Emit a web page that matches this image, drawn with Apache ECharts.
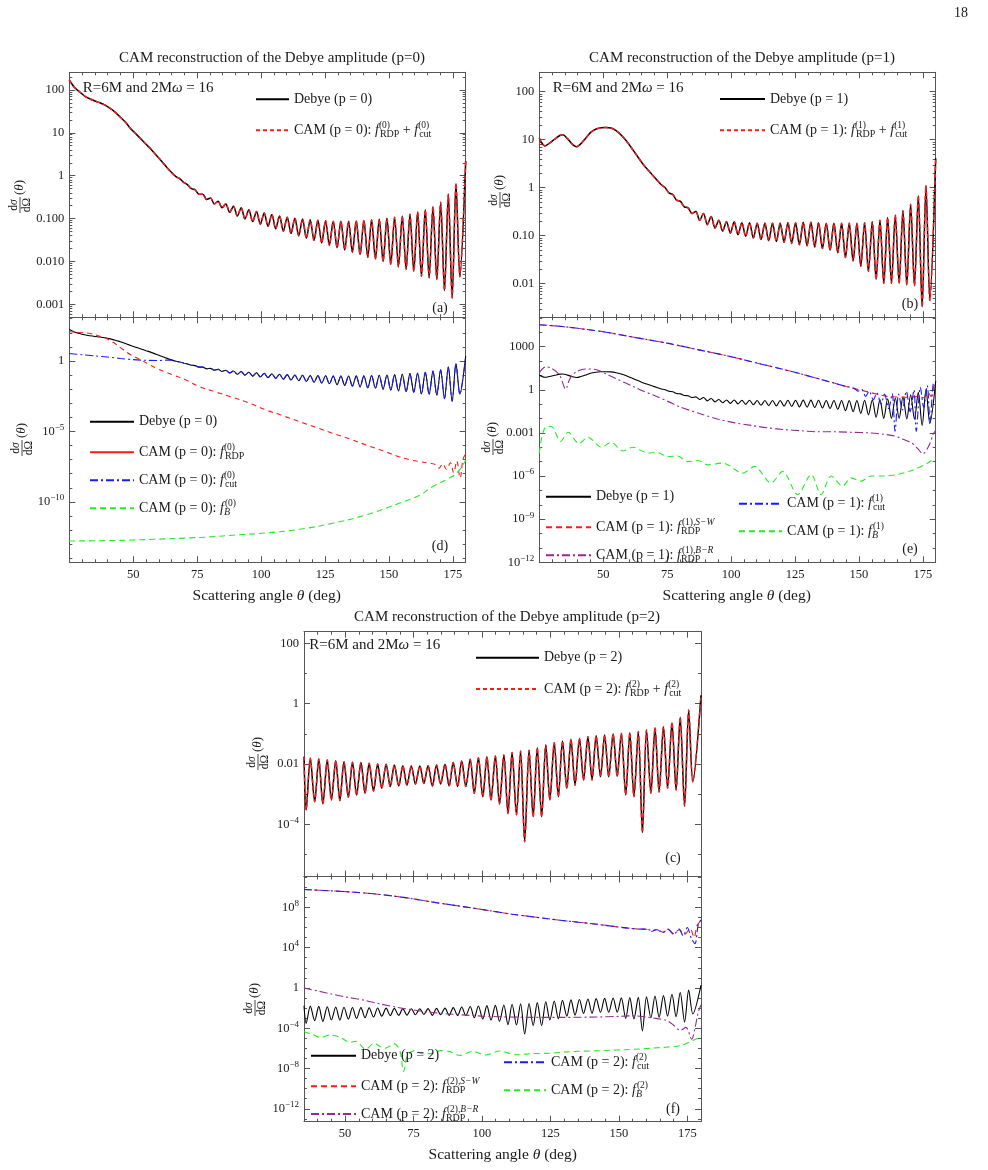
<!DOCTYPE html>
<html><head><meta charset="utf-8">
<script src="https://cdn.jsdelivr.net/npm/echarts@6/dist/echarts.min.js"></script>
<style>html,body{margin:0;padding:0;background:#fff}#c{width:988px;height:1170px}</style>
</head><body><div id="c"></div>
<script>
// ================= DATA =================
const xTickLabels = [50, 75, 100, 125, 150, 175];

// Debye p=0 (panels a and d)
const debyeP0 = [[25,170],[27,115],[29,90],[31,72],[33,62],[35,55],[37,50],[39,44],[41,37],[43,30],[45,23],[47,17.5],[49,12.5],[51,9.5],[53,7.2],[55,5.4],[57,4.1],[59,3.0],[61,2.2],[63,1.6],
[65.2,1.15],[66.7,0.95],[68.2,0.85],[69.7,0.70],[71.2,0.62],[72.7,0.50],[74.2,0.47],[75.7,0.37],[77.2,0.37],[78.7,0.28],[80.2,0.30],[81.7,0.22],[83.2,0.255],[84.7,0.18],[86.2,0.22],[87.7,0.14],[89.2,0.195],[90.7,0.115],[92.2,0.18],[93.7,0.098],[95.2,0.16],[96.7,0.085],[98.2,0.147],[99.7,0.074],[101.2,0.135],[102.7,0.066],[104.2,0.125],[105.7,0.058],[107.2,0.115],[108.7,0.051],[110.2,0.108],[111.7,0.045],[113.2,0.102],[114.7,0.040],[116.2,0.098],[117.7,0.035],[119.2,0.094],[120.7,0.031],[122.2,0.091],[123.7,0.027],[125.2,0.089],[126.7,0.024],[128.2,0.087],[129.7,0.021],[131.2,0.087],[132.7,0.0185],[134.2,0.087],[135.7,0.0165],[137.2,0.088],[138.7,0.0145],[140.2,0.09],[141.7,0.0125],[143.2,0.093],[144.7,0.0115],[146.2,0.097],[147.7,0.010],[149.2,0.102],[150.7,0.0085],[152.2,0.108],[153.7,0.0075],[155.2,0.115],[156.7,0.0066],[158.2,0.127],[159.7,0.006],[161.2,0.142],[162.7,0.0045],[164.2,0.16],[165.7,0.0042],[167.2,0.19],[168.7,0.0038],[170.2,0.24],[171.7,0.0021],[173.2,0.37],[174.7,0.0014],[176.2,0.66],[177.7,0.0044],[180,2.2]];

// Debye p=1 (panels b and e)
const debyeP1 = [[25,10.7],[26,8.5],[27.2,7.4],[29,8.5],[31,10.2],[33,12.2],[34.2,12.6],[36,10.5],[38,8],[39.6,7.1],[41,8],[43,10.5],[45,14],[47,16.5],[49,17.8],[51,18],[53,17.5],[55,15.5],[57,12.5],[59,9.5],[61,6.8],[63,4.8],[65,3.4],[67,2.5],[69,1.9],[71,1.45],[72.7,1.15],
[74.2,1.0],[75.7,0.78],[77.2,0.72],[78.7,0.55],[80.2,0.52],[81.7,0.40],[83.2,0.38],[84.7,0.29],[86.2,0.32],[87.7,0.21],[89.2,0.29],[90.7,0.17],[92.2,0.25],[93.7,0.145],[95.2,0.21],[96.7,0.125],[98.2,0.196],[99.7,0.113],[101.2,0.196],[102.7,0.105],[104.2,0.187],[105.7,0.097],[107.2,0.187],[108.7,0.09],[110.2,0.181],[111.7,0.083],[113.2,0.181],[114.7,0.079],[116.2,0.181],[117.7,0.076],[119.2,0.181],[120.7,0.073],[122.2,0.187],[123.7,0.069],[125.2,0.187],[126.7,0.065],[128.2,0.19],[129.7,0.062],[131.2,0.19],[132.7,0.058],[134.2,0.187],[135.7,0.054],[137.2,0.181],[138.7,0.05],[140.2,0.181],[141.7,0.044],[143.2,0.181],[144.7,0.035],[146.2,0.181],[147.7,0.03],[149.2,0.181],[150.7,0.023],[152.2,0.187],[153.7,0.018],[155.2,0.196],[156.7,0.0123],[158.2,0.21],[159.7,0.0102],[161.2,0.24],[162.7,0.0102],[164.2,0.27],[165.7,0.0102],[167.2,0.33],[168.7,0.0094],[170.2,0.45],[171.7,0.009],[173.2,0.68],[174.7,0.0033],[176.2,1.1],[177.7,0.0045],[180,4.1]];

// Debye p=2 (panels c and f)
const debyeP2 = [[35,0.0176],
[35.8,3.0e-4],[37.3,0.0155],[38.9,5.7e-4],[40.4,0.0148],[41.9,4.8e-4],[43.5,0.0137],[45.0,6.5e-4],[46.6,0.013],[48.1,6.2e-4],[49.6,0.012],[51.2,8e-4],[52.7,0.0115],[54.2,9.5e-4],[55.8,0.0112],[57.3,1.08e-3],[58.8,0.0106],[60.4,1.29e-3],[61.9,0.0101],[63.4,1.58e-3],[65.0,0.0099],[66.5,1.8e-3],[68.0,0.0093],[69.6,1.88e-3],[71.1,0.0089],[72.6,2.0e-3],[74.2,0.0087],[75.7,2.2e-3],[77.3,0.0087],[78.8,2.3e-3],[80.3,0.0089],[81.9,1.88e-3],[83.4,0.0093],[84.9,2.2e-3],[86.5,0.0099],[88.0,1.88e-3],[89.5,0.0112],[91.1,1.8e-3],[92.6,0.0127],[94.1,1.8e-3],[95.7,0.0144],[97.2,1.08e-3],[98.7,0.0163],[100.3,8.3e-4],[101.8,0.0176],[103.3,6.5e-4],[104.9,0.0185],[106.4,4.8e-4],[108.0,0.020],[109.5,2.3e-4],[111.0,0.024],[112.6,2.1e-4],[114.1,0.027],[115.6,2.7e-5],[117.2,0.029],[118.7,1.8e-4],[120.2,0.035],[121.8,1.8e-4],[123.3,0.043],[124.8,6.5e-4],[126.4,0.051],[127.9,8.3e-4],[129.4,0.058],[131.0,1.58e-3],[132.5,0.066],[134.0,2.0e-3],[135.6,0.071],[137.1,3.0e-3],[138.7,0.081],[140.2,3.0e-3],[141.7,0.087],[143.3,3.8e-3],[144.8,0.092],[146.3,3.8e-3],[147.9,0.099],[149.4,4.0e-3],[150.9,0.104],[152.5,9.5e-4],[154.0,0.11],[155.5,8.3e-4],[157.1,0.119],[158.6,5.4e-5],[160.1,0.135],[161.7,1.08e-3],[163.2,0.161],[164.7,1.2e-3],[166.3,0.174],[167.8,1.58e-3],[169.4,0.236],[170.9,1.4e-3],[172.4,0.354],[174.0,4.1e-4],[175.5,0.62],[177.0,2.6e-3],[180,1.9]];

// Panel d components
const rdpP0 = [[25,120],[29,105],[33,90],[36,65],[39,42],[42,22],[46,6.5],[49,2.8],[52.6,1.3],[56,0.6],[59.2,0.3],[62,0.18],[65.7,0.1],[70,0.05],[76,0.015],[82,0.0065],[89,0.0026],[95,0.0011],[102,3.3e-4],[108,1.4e-4],[115,5e-5],[122,1.8e-5],[128,7.4e-6],[135,2.8e-6],[141,1.1e-6],[148,4e-7],[154,1.6e-7],[158,1e-7],[162,7.2e-8],[166,5.5e-8],[168,4.5e-8],[169.5,2.5e-8],[171,5e-8],[172.5,2e-8],[174,6e-8],[175.3,1.2e-8],[176.5,8e-8],[177.8,5e-9],[179,1.2e-7],[180,2.5e-7]];
const cutP0Early = [[25,3.4],[30,2.8],[35,2.3],[40,1.9],[45,1.5],[50,1.25],[55,1.12],[60,1.08],[63,1.15]];
const bP0 = [[25,1.7e-13],[40,1.8e-13],[50,2e-13],[60,2.3e-13],[70,2.7e-13],[80,3.3e-13],[90,4.5e-13],[102,6.3e-13],[115,1.15e-12],[128,3.1e-12],[141,1.2e-11],[154,8e-11],[162,3e-10],[167,1.2e-9],[173.5,4.8e-9],[177,1.4e-8],[180,9.5e-8]];

// Panel e components
const swP1 = [[25,3.3e4],[31,2.8e4],[37,2.2e4],[43,1.6e4],[50,1.1e4],[56,7000],[62,4500],[68,2900],[75,1750],[81,1050],[87,620],[94,340],[100,200],[106,110],[112,60],[119,30],[126,14.5],[132,7.5],[138,3.8],[145,1.7],[150,1.0],[153.7,0.7],[157,0.5],[161.5,0.34],[166.7,0.31],[170,0.3],[173.2,0.34],[175.5,0.28],[177,0.6],[178.2,0.35],[179.2,1.5],[180,4.9]];
const cutP1Tail = [[148,1.3],[149.6,0.8],[151,1.1],[152.6,0.35],[154,0.8],[155.6,0.2],[157,0.6],[158.6,0.1],[160,0.5],[161.6,0.05],[163,0.55],[164.1,0.0013],[165.5,0.5],[167,0.04],[168.5,0.8],[170,0.03],[171.5,1.0],[172.4,0.0013],[174,1.5],[175.3,0.06],[176.7,2.0],[177.8,0.005],[179,2.5],[180,4]];
const brP1 = [[25,15],[27.5,40],[30,30],[33,10],[35.3,1.1],[37,6],[39.5,18],[43,28],[47,26],[51,13],[55,6],[59,2.8],[62.4,1.5],[65,0.9],[70,0.4],[75.5,0.15],[80,0.065],[88.5,0.02],[95,0.009],[101.5,0.005],[108,0.0033],[114.6,0.0022],[121,0.0017],[127.6,0.0014],[134,0.0012],[140.6,0.0012],[147,0.0011],[153.7,0.001],[160,8e-4],[164,6e-4],[167.5,3.5e-4],[170.6,2e-4],[173,8e-5],[175,3.5e-5],[177.5,1.5e-4],[179,8e-4],[180,1.5e-3]];
const bP1 = [[25,4e-5],[26,5e-4],[27.5,2.5e-3],[29.7,2.8e-3],[33.3,2.6e-4],[36.3,1.1e-3],[40.5,1.8e-4],[44,5e-4],[49.3,1e-4],[53.1,2.2e-4],[57.7,5.5e-5],[61.6,1e-4],[67.5,4e-5],[71,4.3e-5],[75.3,2.3e-5],[79,2.5e-5],[83.1,1e-5],[87,1.2e-5],[90.9,6e-6],[96.7,8e-6],[104.6,1.6e-6],[109.1,4.7e-6],[115.6,3.3e-7],[120.2,2.1e-6],[126,5e-8],[131.3,1.3e-6],[135.2,5e-8],[139.1,1e-6],[143.6,2e-7],[146.9,7.5e-7],[150.8,4.4e-7],[154.7,1e-6],[160,1e-6],[165,1.3e-6],[171.6,2.8e-6],[176.9,8e-6],[180,2e-5]];

// Panel f components
const swP2 = [[35,6e9],[42,4.8e9],[50,3.7e9],[60,2.3e9],[69,1.2e9],[75,7e8],[81,3.7e8],[87,2.1e8],[93,1.2e8],[99,6.8e7],[105,3.8e7],[111,2.1e7],[118,1.2e7],[124,7.5e6],[130,4.8e6],[136,3.2e6],[142,2.1e6],[148,1.3e6],[154,8.3e5],[158,7e5],[160,6.8e5],[162,4e5],[164,7e5],[166,3.5e5],[168,6e5],[170,2.5e5],[172,6e5],[174,2e5],[176,8e5],[177.5,1e5],[178.5,1.5e6],[180,5e6]];
const cutP2Tail = [[160,7e5],[162,5e5],[164,6e5],[166,3e5],[168,7e5],[170,2e5],[172,7e5],[173.5,1.5e5],[175,1e6],[176.5,8e4],[177.8,2.5e4],[179,2e6],[180,6e6]];
const brP2 = [[35,1.0],[40,0.5],[45,0.25],[50,0.13],[57,0.06],[63,0.025],[69,0.012],[75,0.0065],[81,0.0038],[87,0.0027],[93,0.0021],[100,0.0016],[106,0.0014],[118,0.0012],[130,0.0012],[142,0.0013],[150,0.0015],[155,0.0017],[160,0.0013],[164,9e-4],[167.5,6e-4],[170,2e-4],[172.4,6e-5],[174.5,1.2e-4],[176.6,8e-6],[177.8,1e-4],[179,4e-3],[180,0.02]];
const bP2 = [[35,4.5e-5],[38,2.5e-5],[41,1.2e-5],[44.5,2.1e-5],[48,1.3e-5],[52,4e-6],[54,5e-6],[57.5,8e-7],[60.5,3e-6],[64.5,1e-6],[68,2.8e-6],[70,6e-7],[71.4,5e-9],[72.8,2e-7],[75.5,6e-7],[78,3e-7],[82,3e-7],[85,6e-7],[88,5e-7],[92,2e-7],[96.5,5e-7],[101.5,2.2e-7],[106.5,5.5e-7],[112.5,2.3e-7],[118,3e-7],[125,3.3e-7],[131,4.5e-7],[143,6e-7],[155,8e-7],[167,1.3e-6],[173,2e-6],[177,6e-6],[180,1.3e-5]];

// y tick labels (exponent -> text)
const yLabA = {'2':'100','1':'10','0':'1','-1':'0.100','-2':'0.010','-3':'0.001'};
const yLabB = {'2':'100','1':'10','0':'1','-1':'0.10','-2':'0.01'};
const yLabC = {'2':'100','0':'1','-2':'0.01','-4':'10{s|−4}'};
const yLabD = {'0':'1','-5':'10{s|−5}','-10':'10{s|−10}'};
const yLabE = {'3':'1000','0':'1','-3':'0.001','-6':'10{s|−6}','-9':'10{s|−9}','-12':'10{s|−12}'};
const yLabF = {'8':'10{s|8}','4':'10{s|4}','0':'1','-4':'10{s|−4}','-8':'10{s|−8}','-12':'10{s|−12}'};

// ================= STYLE / LAYOUT =================
const FONT = "'Liberation Serif','Times New Roman',serif";
const INK = '#1a1a1a';
const FRAME = '#555';
const RED = '#ff1a1a', BLUE = '#1a1aff', GREEN = '#22ee22', PURPLE = '#922a92';

const panels = [
  {id:'a', l:69.3, t:72.3, w:396.4, h:245, xmin:25, ymin:5.0e-4, ymax:257, base:10, lab:yLabA, xlab:false, sub:'m'},
  {id:'d', l:69.3, t:317.3, w:396.4, h:245, xmin:25, ymin:5.2e-15, ymax:1260, base:1e5, lab:yLabD, xlab:true, sub:'dec'},
  {id:'b', l:539.3, t:72.3, w:396.4, h:245, xmin:25, ymin:2.0e-3, ymax:253, base:10, lab:yLabB, xlab:false, sub:'m'},
  {id:'e', l:539.3, t:317.3, w:396.4, h:245, xmin:25, ymin:1e-12, ymax:1.1e5, base:1000, lab:yLabE, xlab:true, sub:'dec', showMin:true},
  {id:'c', l:304, t:631.7, w:397, h:244.8, xmin:35, ymin:1.9e-6, ymax:242, base:100, lab:yLabC, xlab:false, sub:'dec'},
  {id:'f', l:304, t:876.5, w:397, h:245.2, xmin:35, ymin:5.2e-14, ymax:1.17e11, base:1e4, lab:yLabF, xlab:true, sub:'dec'}
];

const grid = [], xAxis = [], yAxis = [], series = [], legend = [], graphic = [];
const AX = {};

function subTickValues(p, kind) {
  const out = [];
  const lo = Math.floor(Math.log10(p.ymin)), hi = Math.ceil(Math.log10(p.ymax));
  for (let k = lo; k <= hi; k++) {
    if (kind === 'm') { for (let m = 2; m <= 9; m++) { const v = m * Math.pow(10, k); if (v > p.ymin && v < p.ymax) out.push(v); } }
    else { const v = Math.pow(10, k); if (v > p.ymin && v < p.ymax) out.push(v); }
  }
  return out;
}

panels.forEach(p => {
  const g = grid.length;
  grid.push({left:p.l, top:p.t, width:p.w, height:p.h, containLabel:false, outerBoundsMode:'none'});
  const quarter = (p.xmin % 25 === 0);
  const xAx = (pos, labels, extra) => Object.assign({
    type:'value', gridIndex:g, position:pos, min:p.xmin, max:180,
    interval: quarter ? 25 : 5,
    splitLine:{show:false}, minorSplitLine:{show:false},
    axisLine:{show:true, onZero:false, lineStyle:{color:FRAME, width:1}},
    axisTick:{show:true, inside:true, length: quarter ? 6 : 3, lineStyle:{color:FRAME, width:1}},
    minorTick:{show:quarter, splitNumber:5, length:3, lineStyle:{color:FRAME, width:1}},
    axisLabel:{show:labels, fontFamily:FONT, fontSize:12.5, color:INK, margin:6, showMinLabel:false, showMaxLabel:false,
      formatter: v => (xTickLabels.indexOf(v) >= 0 ? String(v) : '')}
  }, extra || {});
  AX[p.id] = {xi: xAxis.length};
  xAxis.push(xAx('bottom', p.xlab));
  xAxis.push(xAx('top', false));
  if (!quarter) {
    const major = {axisLine:{show:false}, minorTick:{show:false},
      axisTick:{show:true, inside:true, length:6, customValues:xTickLabels, lineStyle:{color:FRAME, width:1}}};
    xAxis.push(xAx('bottom', false, major));
    xAxis.push(xAx('top', false, JSON.parse(JSON.stringify(major))));
  }
  const yAx = (pos, labels, extra) => Object.assign({
    type:'log', logBase:p.base, gridIndex:g, position:pos, min:p.ymin, max:p.ymax,
    splitLine:{show:false}, minorSplitLine:{show:false}, minorTick:{show:false},
    axisLine:{show:true, onZero:false, lineStyle:{color:FRAME, width:1}},
    axisTick:{show:true, inside:true, length:6, lineStyle:{color:FRAME, width:1}},
    axisLabel:{show:labels, fontFamily:FONT, fontSize:12.5, color:INK, margin:5,
      showMinLabel: !!p.showMin, showMaxLabel:false,
      rich:{s:{fontFamily:FONT, fontSize:9, color:INK, padding:[0,0,8,0]}},
      formatter: v => { const e = Math.round(Math.log10(v)); return (Math.abs(Math.log10(v) - e) < 0.02 && p.lab[String(e)] !== undefined) ? p.lab[String(e)] : ''; }}
  }, extra || {});
  AX[p.id].yi = yAxis.length;
  yAxis.push(yAx('left', true));
  yAxis.push(yAx('right', false));
  const subVals = subTickValues(p, p.sub);
  const minor = () => ({logBase:10, axisLine:{show:false},
    axisTick:{show:true, inside:true, length:3, customValues:subVals.slice(), lineStyle:{color:FRAME, width:1}}});
  yAxis.push(yAx('left', false, minor()));
  yAxis.push(yAx('right', false, minor()));
});

function addLine(pid, name, data, color, width, dash, z, smooth) {
  series.push({type:'line', name, data, xAxisIndex:AX[pid].xi, yAxisIndex:AX[pid].yi,
    symbol:'none', showSymbol:false, smooth: smooth, animation:false, silent:true, z: z, clip:true,
    itemStyle:{color}, lineStyle:{color, width, type: dash || 'solid'}});
}

// names
const N = {
  d0:'Debye (p = 0)', c0:'CAM (p = 0): RDP + cut', r0:'CAM (p = 0): RDP', u0:'CAM (p = 0): cut', b0:'CAM (p = 0): B',
  d1:'Debye (p = 1)', c1:'CAM (p = 1): RDP + cut', s1:'CAM (p = 1): RDP S-W', q1:'CAM (p = 1): RDP B-R', u1:'CAM (p = 1): cut', b1:'CAM (p = 1): B',
  d2:'Debye (p = 2)', c2:'CAM (p = 2): RDP + cut', s2:'CAM (p = 2): RDP S-W', q2:'CAM (p = 2): RDP B-R', u2:'CAM (p = 2): cut', b2:'CAM (p = 2): B'
};
const LBL = {};
[0,1,2].forEach(k => {
  const h = 'CAM (p = ' + k + '): ';
  LBL[N['d'+k]] = 'Debye (p = ' + k + ')';
  LBL[N['c'+k]] = h + '{i|f}{sp|(' + k + ')}{sb|RDP} + {i|f}{sp|(' + k + ')}{sb|cut}';
  LBL[N['u'+k]] = h + '{i|f}{sp|(' + k + ')}{sb|cut}';
  LBL[N['b'+k]] = h + '{i|f}{sbin|B}{spw|(' + k + ')}';
});
LBL[N.r0] = 'CAM (p = 0): {i|f}{sp|(0)}{sb|RDP}';
[1,2].forEach(k => {
  LBL[N['s'+k]] = 'CAM (p = ' + k + '): {i|f}{sbn|RDP}{spw|(' + k + '),}{spi|S−W}';
  LBL[N['q'+k]] = 'CAM (p = ' + k + '): {i|f}{sbn|RDP}{spw|(' + k + '),}{spi|B−R}';
});

// ---- series ----
// (a)
addLine('a', N.d0, debyeP0, '#000', 1.5, 'solid', 2, 0.3);
addLine('a', N.c0, debyeP0, RED, 1.5, [4,3], 3, 0.3);
// (d)
addLine('d', N.d0, debyeP0, '#000', 1.1, 'solid', 2, 0.3);
addLine('d', N.r0, rdpP0, RED, 1.1, [5,4], 3, 0.4);
addLine('d', N.u0, cutP0Early.concat(debyeP0.filter(d => d[0] >= 65)), BLUE, 1.1, [8,3,2,3], 4, 0.3);
addLine('d', N.b0, bP0, GREEN, 1.1, [6,4], 3, 0.5);
// (b)
addLine('b', N.d1, debyeP1, '#000', 1.5, 'solid', 2, 0.3);
addLine('b', N.c1, debyeP1, RED, 1.5, [4,3], 3, 0.3);
// (e)
addLine('e', N.d1, debyeP1, '#000', 1.1, 'solid', 2, 0.3);
addLine('e', N.s1, swP1, RED, 1.1, [6,4], 3, 0.3);
addLine('e', N.q1, brP1, PURPLE, 1.1, [8,3,2,3], 3, 0.3);
addLine('e', N.u1, swP1.filter(d => d[0] < 148).concat(cutP1Tail), BLUE, 1.1, [8,3,2,3], 4, 0.3);
addLine('e', N.b1, bP1, GREEN, 1.1, [6,4], 3, 0.3);
// (c)
addLine('c', N.d2, debyeP2, '#000', 1.5, 'solid', 2, 0.3);
addLine('c', N.c2, debyeP2, RED, 1.5, [4,3], 3, 0.3);
// (f)
addLine('f', N.d2, debyeP2, '#000', 1.1, 'solid', 2, 0.3);
addLine('f', N.s2, swP2, RED, 1.1, [6,4], 3, 0.3);
addLine('f', N.u2, swP2.filter(d => d[0] < 160).concat(cutP2Tail), BLUE, 1.1, [8,3,2,3], 4, 0.3);
addLine('f', N.q2, brP2, PURPLE, 1.1, [8,3,2,3], 3, 0.3);
addLine('f', N.b2, bP2, GREEN, 1.1, [6,4], 3, 0.3);

// ---- legends (one per entry) ----
const RICH = {
  i:{fontFamily:FONT, fontSize:14, fontStyle:'italic', color:INK},
  sp:{fontFamily:FONT, fontSize:9.5, color:INK, padding:[0,0,10,0], width:1},
  spw:{fontFamily:FONT, fontSize:9.5, color:INK, padding:[0,0,10,0]},
  spi:{fontFamily:FONT, fontSize:9.5, fontStyle:'italic', color:INK, padding:[0,0,10,0]},
  sb:{fontFamily:FONT, fontSize:10, color:INK, padding:[8,0,0,0]},
  sbn:{fontFamily:FONT, fontSize:10, color:INK, padding:[8,0,0,0], width:1},
  sbin:{fontFamily:FONT, fontSize:10, fontStyle:'italic', color:INK, padding:[8,0,0,0], width:1}
};
const HIDE_SYMBOL = {color:'rgba(0,0,0,0)', borderColor:'rgba(0,0,0,0)', borderWidth:0, opacity:0};
const legendSpec = [
  [N.d0, 255, 99.3, 33, 2], [N.c0, 255, 127.3, 33],
  [N.d1, 719, 99, 45, 2], [N.c1, 719, 127.3, 45],
  [N.d2, 475, 657.7, 63, 2], [N.c2, 475, 686, 63],
  [N.d0, 89, 421.7, 44], [N.r0, 89, 449.3, 44, 0, 'solid'], [N.u0, 89, 477.3, 44], [N.b0, 89, 505.3, 44],
  [N.d1, 545, 496.7, 45], [N.s1, 545, 524.3, 45], [N.q1, 545, 552.3, 45], [N.u1, 738, 500.7, 43], [N.b1, 738, 528.3, 43],
  [N.d2, 310, 1055.7, 45], [N.s2, 310, 1083.3, 45], [N.q2, 310, 1111, 45], [N.u2, 503, 1059.3, 42], [N.b2, 503, 1087.3, 42]
];
legendSpec.forEach(s => {
  const item = {name: s[0], itemStyle: Object.assign({}, HIDE_SYMBOL)};
  const ls = {};
  if (s[4]) ls.width = s[4];
  if (s[5]) ls.type = s[5];
  if (Object.keys(ls).length) item.lineStyle = ls;
  legend.push({show:true, data:[item], left:s[1], top:s[2] - 7, itemWidth:s[3], itemHeight:14, padding:0, itemGap:0,
    selectedMode:false, orient:'vertical', itemStyle: Object.assign({}, HIDE_SYMBOL),
    textStyle:{fontFamily:FONT, fontSize:14, color:INK, rich:RICH},
    formatter: n => LBL[n] || n});
});

// ---- texts ----
function txt(x, y, text, size, align, rich, extra) {
  return Object.assign({type:'text', x, y, silent:true, z:50,
    style:{text, fontFamily:FONT, fontSize:size, fill:INK, align:align || 'center', verticalAlign:'middle',
      textAlign:align || 'center', textVerticalAlign:'middle', rich: rich || {}}}, extra || {});
}
const itRich = sz => ({i:{fontFamily:FONT, fontSize:sz, fontStyle:'italic', fill:INK, color:INK}});
graphic.push(txt(961, 13, '18', 14));
graphic.push(txt(272, 58.3, 'CAM reconstruction of the Debye amplitude (p=0)', 15));
graphic.push(txt(742, 58, 'CAM reconstruction of the Debye amplitude (p=1)', 15));
graphic.push(txt(507, 617, 'CAM reconstruction of the Debye amplitude (p=2)', 15));
[[82.7,87.7],[552.7,88.3],[309.3,645]].forEach(pt => graphic.push(txt(pt[0], pt[1], 'R=6M and 2M{i|ω} = 16', 15, 'left', itRich(15))));
[['(a)',440,308],['(d)',440,546],['(b)',910,304],['(e)',910,549],['(c)',673,858],['(f)',673,1109]].forEach(q => graphic.push(txt(q[1], q[2], q[0], 14)));
[[266.7,596],[736.7,596],[502.7,1155]].forEach(pt => graphic.push(txt(pt[0], pt[1], 'Scattering angle {i|θ} (deg)', 15.5, 'center', itRich(15.5))));
// y-axis titles: dσ/dΩ (θ), rotated
function yTitle(cx, cy) {
  return {type:'group', x:cx, y:cy, rotation:Math.PI / 2, silent:true, z:50, children:[
    txt(0, -6.5, 'd{i|σ}', 11.5, 'center', itRich(11.5)),
    {type:'line', shape:{x1:-8, y1:0, x2:8, y2:0}, style:{stroke:INK, lineWidth:0.8}},
    txt(0, 7, 'dΩ', 11.5),
    txt(10, 0, '({i|θ})', 13, 'left', itRich(13))
  ]};
}
[[20,205],[22,448],[500,200],[493,447],[258,762],[255,1008]].forEach(pt => graphic.push(yTitle(pt[0], pt[1])));

const chart = echarts.init(document.getElementById('c'), null, {renderer:'canvas', width:988, height:1170});
chart.setOption({backgroundColor:'#fff', animation:false, grid, xAxis, yAxis, series, legend, graphic});
</script>
</body></html>
